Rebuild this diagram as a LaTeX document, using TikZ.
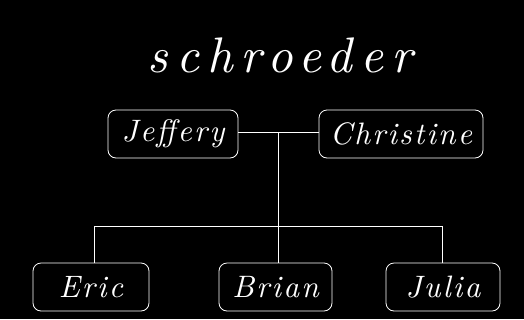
\documentclass[tikz,border=0pt]{standalone}
\usepackage{fontspec}
% italic Latin Modern with open letter spacing for the names
\newfontfamily\handname{lmroman10-italic}[Extension=.otf,LetterSpace=7]
\newfontfamily\handtitle{lmroman10-italic}[Extension=.otf,LetterSpace=16]
\begin{document}
\begin{tikzpicture}[x=1pt,y=-1pt,
  person/.style={draw=white,line width=0.8pt,rounded corners=8pt,
    minimum height=48pt,inner sep=0pt,text=white,
    font=\handname\fontsize{31}{33}\selectfont},
  link/.style={draw=white,line width=0.8pt}]
  % black page
  \fill[black] (0,0) rectangle (524,319);
  \useasboundingbox (0,0) rectangle (524,319);
  % family name
  \node[text=white,font=\handtitle\fontsize{50}{52}\selectfont] (title) at (280,55) {schroeder};
  % parents
  \node[person,minimum width=130pt] (jeffery) at (173,134) {Jeffery};
  \node[person,minimum width=164pt] (christine) at (401,134) {Christine};
  % children
  \node[person,minimum width=116pt] (eric) at (91,287) {Eric};
  \node[person,minimum width=113pt] (brian) at (275.5,287) {Brian};
  \node[person,minimum width=114pt] (julia) at (443,287) {Julia};
  % connectors
  \coordinate (marriage) at (278,132);
  \coordinate (bar) at (278,226);
  \coordinate (leftdrop) at (94,263);
  \coordinate (rightdrop) at (442,263);
  \draw[link] (jeffery.east |- marriage) -- (christine.west |- marriage);
  \draw[link] (marriage) -- (marriage |- brian.north);
  \draw[link] (leftdrop) -- (leftdrop |- bar) -- (rightdrop |- bar) -- (rightdrop);
\end{tikzpicture}
\end{document}
